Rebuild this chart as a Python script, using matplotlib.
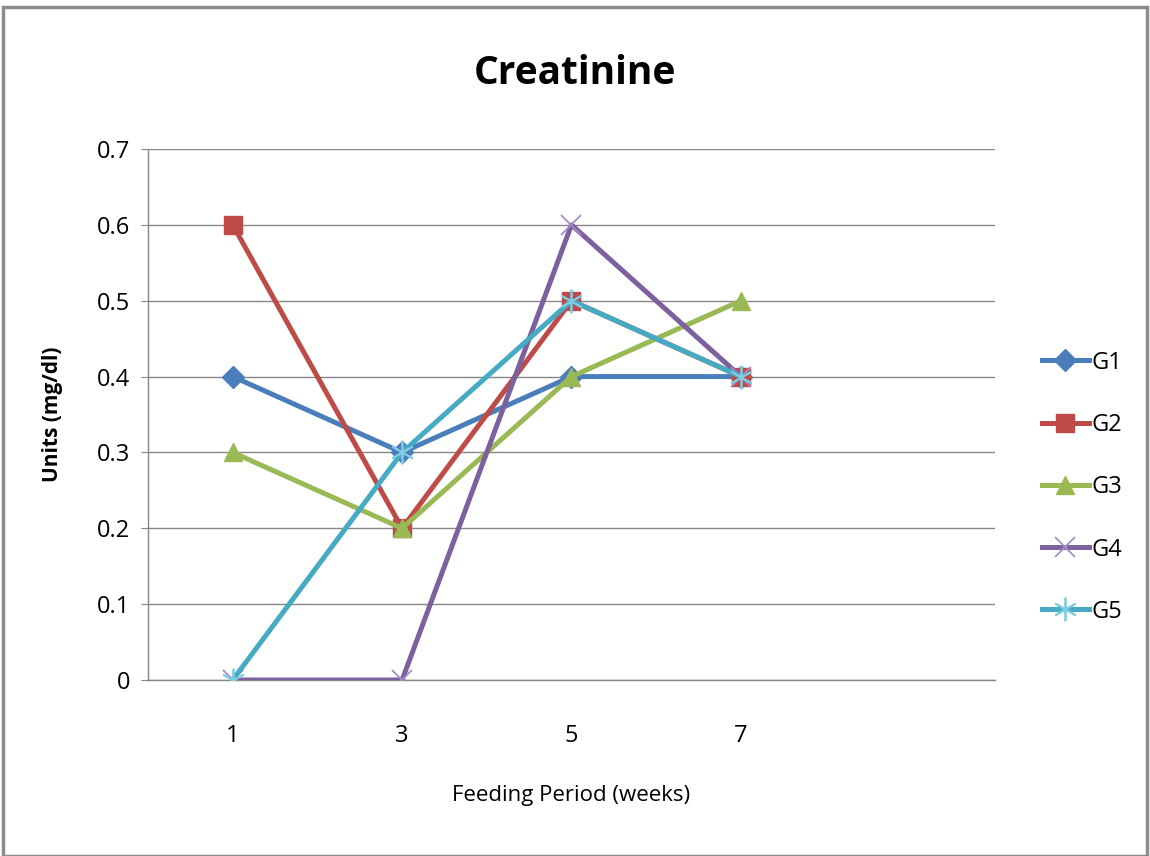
import matplotlib.pyplot as plt
from matplotlib.patches import Rectangle

# ----------------------------------------------------------
# DATOS
# ----------------------------------------------------------
semanas = ["1", "3", "5", "7", ""]
g1 = [0.4, 0.3, 0.4, 0.4]
g2 = [0.6, 0.2, 0.5, 0.4]
g3 = [0.3, 0.2, 0.4, 0.5]
g4 = [0.0, 0.0, 0.6, 0.4]
g5 = [0.0, 0.3, 0.5, 0.4]

plt.rcParams["font.family"] = ["Open Sans", "DejaVu Sans"]

series = [
    ("G1", g1, "#4A7EBB", "D", 11, "#4A7EBB", 1.0),
    ("G2", g2, "#BE4B48", "s", 13, "#BE4B48", 1.0),
    ("G3", g3, "#98B954", "^", 13, "#98B954", 1.0),
    ("G4", g4, "#7D60A0", "x", 14, "#A48CC4", 1.3),
    ("G5", g5, "#46AAC5", (6, 2, 0), 17, "#7FCCE0", 1.3),
]

fig = plt.figure(figsize=(11.5, 8.56), dpi=100)
ax = fig.add_axes([0.1287, 0.2056, 0.7365, 0.6203])

# marco gris de la figura
fig.patches.append(Rectangle((0.003, 0.0), 0.994, 0.992, transform=fig.transFigure,
                             fill=False, edgecolor="#8C8C8C", linewidth=2.5))

x = list(range(len(g1)))
for nombre, valores, color, marcador, tam, borde, ancho_borde in series:
    ax.plot(x, valores, color=color, linewidth=3.6, marker=marcador,
            markersize=tam, markerfacecolor=color, markeredgecolor=borde,
            markeredgewidth=ancho_borde, label=nombre, zorder=3)

ax.set_xlim(-0.5, len(semanas) - 0.5)
ax.set_ylim(0, 0.7)
ax.set_xticks(range(len(semanas)))
ax.set_xticklabels(semanas)
ax.set_yticks([i / 10 for i in range(8)])
ax.set_yticklabels(["0", "0.1", "0.2", "0.3", "0.4", "0.5", "0.6", "0.7"])

ax.yaxis.grid(True, color="#868686", linewidth=1.0)
ax.set_axisbelow(True)
for lado in ["top", "right"]:
    ax.spines[lado].set_visible(False)
for lado in ["left", "bottom"]:
    ax.spines[lado].set_color("#868686")
    ax.spines[lado].set_linewidth(1.0)

ax.tick_params(axis="y", direction="out", length=5, color="#868686",
               labelsize=17, pad=8)
ax.tick_params(axis="x", length=0, labelsize=17, pad=32)

fig.text(0.5, 0.914, "Creatinine", ha="center", va="center",
         fontsize=28, fontweight="bold")
ax.set_ylabel("Units (mg/dl)", fontsize=15, fontweight="bold", labelpad=24)
ax.set_xlabel("Feeding Period (weeks)", fontsize=16, labelpad=26)

ax.legend(loc="center left", bbox_to_anchor=(1.03, 0.363), frameon=False,
          fontsize=17, labelspacing=1.62, handlelength=2.0, handletextpad=0.1)

plt.savefig("out.png", dpi=100)
